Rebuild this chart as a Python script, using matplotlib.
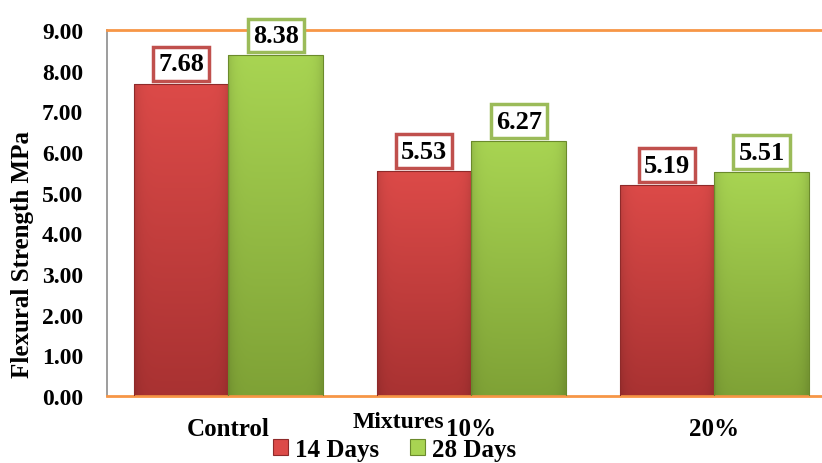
import numpy as np
import matplotlib
matplotlib.use("Agg")
import matplotlib.pyplot as plt

categories = ["Control", "10%", "20%"]
series_names = ["14 Days", "28 Days"]
days14 = [7.68, 5.53, 5.19]
days28 = [8.38, 6.27, 5.51]
yticks = [0, 1, 2, 3, 4, 5, 6, 7, 8, 9]

plt.rcParams["font.family"] = ["Liberation Serif", "DejaVu Serif"]
plt.rcParams["font.weight"] = "bold"

fig = plt.figure(figsize=(8.22, 4.64), dpi=100)
ax = fig.add_axes([0.130, 0.1444, 0.887, 0.789])

x = np.arange(len(categories))
w = 0.39

styles = [
    dict(top="#dc4a48", bottom="#a93232", edge="#8e2a2a", box="#c0504d"),
    dict(top="#a8d452", bottom="#7fa236", edge="#6b8a2c", box="#9bbb59"),
]

def gradient_bar(rect, c_top, c_bot):
    x0, y0 = rect.get_x(), rect.get_y()
    x1, y1 = x0 + rect.get_width(), y0 + rect.get_height()
    ct = np.array(matplotlib.colors.to_rgb(c_top))
    cb = np.array(matplotlib.colors.to_rgb(c_bot))
    t = np.linspace(0, 1, 64)[:, None]
    col = cb[None, :] * (1 - t) + ct[None, :] * t
    # slight horizontal shading toward the edges
    hx = np.linspace(-1, 1, 32)
    shade = 1 - 0.10 * hx ** 8
    img = col[:, None, :] * shade[None, :, None]
    im = ax.imshow(img, extent=[x0, x1, y0, y1], origin="lower",
                   aspect="auto", zorder=2, interpolation="bilinear")
    im.set_clip_path(rect)

for i, (vals, st) in enumerate(zip([days14, days28], styles)):
    offs = (i - 0.5) * w
    bars = ax.bar(x + offs, vals, w, color=st["bottom"], edgecolor=st["edge"],
                  linewidth=0.8, zorder=3, label=series_names[i])
    for b, v in zip(bars, vals):
        b.set_facecolor("none")
        gradient_bar(b, st["top"], st["bottom"])
        ax.annotate(f"{v:.2f}", (b.get_x() + b.get_width() / 2, v),
                    xytext=(0, 6), textcoords="offset points",
                    ha="center", va="bottom", fontsize=19, fontweight="bold",
                    zorder=6, annotation_clip=False,
                    bbox=dict(boxstyle="square,pad=0.2", fc="white",
                              ec=st["box"], lw=2.5))

ax.set_xlim(-0.5, 2.5)
ax.set_ylim(0, 9)
ax.set_yticks(yticks)
ax.set_yticklabels([f"{v:.2f}" for v in yticks], fontsize=17, fontweight="bold")
ax.set_xticks(x)
ax.set_xticklabels(categories, fontsize=18, fontweight="bold")
ax.tick_params(axis="both", length=0)
ax.tick_params(axis="y", pad=17)
ax.tick_params(axis="x", pad=15)

for s in ["top", "bottom", "left", "right"]:
    ax.spines[s].set_color("#f79646")
    ax.spines[s].set_linewidth(2.0)
ax.spines["left"].set_color("#8c8c8c")
ax.spines["left"].set_linewidth(1.2)

ax.set_ylabel("Flexural Strength MPa", fontsize=18, fontweight="bold")
ax.yaxis.set_label_coords(-0.100, 0.39)
fig.text(0.485, 0.0905, "Mixtures", ha="center", va="center",
         fontsize=17, fontweight="bold")

leg = fig.legend(*ax.get_legend_handles_labels(), loc="center",
                 bbox_to_anchor=(0.48, 0.03), ncol=2, frameon=False,
                 fontsize=18, handlelength=0.6, handleheight=0.6,
                 handletextpad=0.3, columnspacing=1.2, borderpad=0)
for h, st in zip(leg.legend_handles, styles):
    h.set_facecolor(st["top"])
    h.set_edgecolor(st["edge"])

fig.savefig("out.png", dpi=100)
